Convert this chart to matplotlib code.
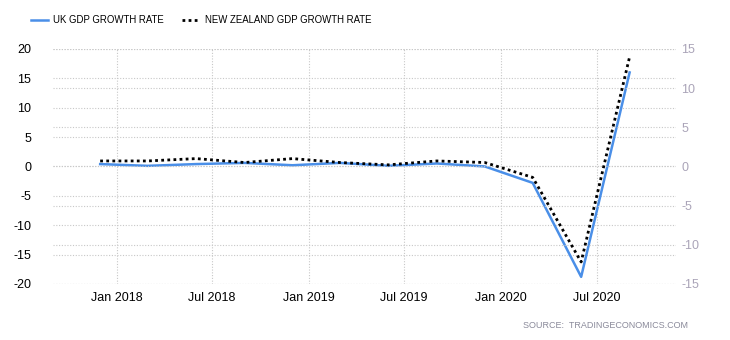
import datetime as dt
import matplotlib
matplotlib.use("Agg")
import matplotlib.pyplot as plt
import matplotlib.dates as mdates

plt.rcParams["font.family"] = ["Liberation Sans", "DejaVu Sans"]
plt.rcParams["axes.unicode_minus"] = False

# quarterly GDP growth (QoQ %), plotted at the last month of each quarter
dates = [dt.date(2017, 12, 1), dt.date(2018, 3, 1), dt.date(2018, 6, 1), dt.date(2018, 9, 1),
         dt.date(2018, 12, 1), dt.date(2019, 3, 1), dt.date(2019, 6, 1), dt.date(2019, 9, 1),
         dt.date(2019, 12, 1), dt.date(2020, 3, 1), dt.date(2020, 6, 1), dt.date(2020, 9, 1)]
uk = [0.4, 0.1, 0.4, 0.6, 0.2, 0.6, 0.1, 0.5, 0.0, -2.8, -18.8, 16.0]
nz = [0.7, 0.7, 1.0, 0.5, 1.0, 0.5, 0.2, 0.7, 0.5, -1.4, -12.2, 14.0]

left_ticks = [-20, -15, -10, -5, 0, 5, 10, 15, 20]
right_ticks = [-15, -10, -5, 0, 5, 10, 15]
x_ticks = [dt.date(2018, 1, 1), dt.date(2018, 7, 1), dt.date(2019, 1, 1),
           dt.date(2019, 7, 1), dt.date(2020, 1, 1), dt.date(2020, 7, 1)]

BLUE, GRID, RGREY = "#4a8fe8", "#c8c8c8", "#aaa4b8"

fig = plt.figure(figsize=(7.3, 3.4), dpi=100)
ax = fig.add_axes([0.073, 0.165, 0.853, 0.691])
ax2 = ax.twinx()

ax.plot(dates, uk, color=BLUE, lw=1.8, label="UK GDP GROWTH RATE", zorder=3)
ax2.plot(dates, nz, color="black", lw=2, ls=(0, (1, 1.2)), label="NEW ZEALAND GDP GROWTH RATE", zorder=3)

ax.set_ylim(-20, 20)
ax2.set_ylim(-15, 15)
ax.set_xlim(dt.date(2017, 9, 3), dt.date(2020, 11, 28))
ax.set_yticks(left_ticks)
ax2.set_yticks(right_ticks)
ax.set_xticks(x_ticks)
ax.xaxis.set_major_formatter(mdates.DateFormatter("%b %Y"))

for a in (ax, ax2):
    for s in a.spines.values():
        s.set_visible(False)
    a.tick_params(length=0, labelsize=9)
ax.grid(True, color=GRID, ls=(0, (1, 1.5)), lw=0.8)
ax2.grid(True, axis="y", color=GRID, ls=(0, (1, 1.5)), lw=0.8)
ax.set_axisbelow(True)
ax.tick_params(axis="y", pad=16)
ax.tick_params(axis="x", pad=6)
ax2.tick_params(axis="y", colors=RGREY, pad=4)

h1, l1 = ax.get_legend_handles_labels()
h2, l2 = ax2.get_legend_handles_labels()
fig.legend(h1 + h2, l1 + l2, loc="upper left", bbox_to_anchor=(0.03, 0.98), ncol=2, frameon=False,
           fontsize=6.9, handlelength=1.8, handletextpad=0.5, columnspacing=2.0)

fig.text(0.942, 0.035, "SOURCE:  TRADINGECONOMICS.COM", ha="right", fontsize=6.5, color="#8a8a9a")

fig.savefig("out.png", dpi=100)
